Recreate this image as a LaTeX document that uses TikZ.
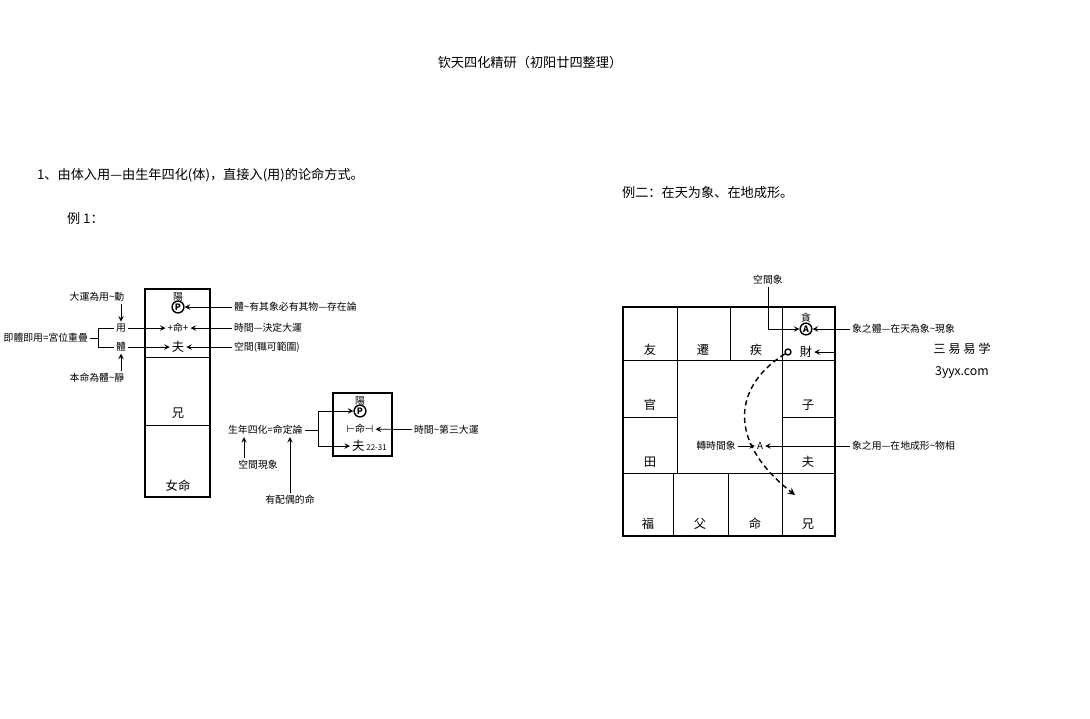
\documentclass[tikz,border=0pt]{standalone}
\usepackage{fontspec}
\setmainfont{Noto Sans CJK SC}
\newfontfamily\symfont{DejaVu Sans}
\usetikzlibrary{positioning}
\newcommand{\tl}{\textasciitilde}
\begin{document}
\begin{tikzpicture}[x=0.02cm, y=-0.02cm, >=stealth,
    big/.style = {font=\fontsize{7.5}{8}\selectfont, inner sep=1pt},
    lbl/.style = {font=\fontsize{5.6}{6}\selectfont, inner sep=1pt},
    pal/.style = {font=\fontsize{7}{8}\selectfont, inner sep=1pt},
    frame/.style = {draw, thick},
    dot/.style = {draw, circle, thick, inner sep=0.6pt, font=\fontsize{5}{5}\selectfont\bfseries}]
\useasboundingbox (0,0) rectangle (1090,718);
% headings
\node[big] (title) at (530,62) {钦天四化精研（初阳廿四整理）};
\node[big, anchor=west] (head) at (35,175) {1、由体入用—由生年四化(体)，直接入(用)的论命方式。};
\node[big, anchor=west] (ex1) at (65,218) {例 1：};
\node[big, anchor=west] (ex2) at (620,193) {例二：在天为象、在地成形。};
% example 1, first box
\draw[frame] (145,289) rectangle (210,497);
\draw (145,357) -- (210,357) (145,425) -- (210,425);
\node[lbl] (yang) at (178,297) {陽};
\node[dot] (lu) at (178,307) {P};
\node[lbl] (ming) at (178,328) {+命+};
\node[pal] (fu) at (178,347) {夫};
\node[pal] (xiong) at (178,413) {兄};
\node[pal] (nvming) at (178,486) {女命};
\node[lbl] (yun) at (97,297) {大運為用\tl 動};
\node[lbl] (yong) at (121,328) {用};
\node[lbl] (ti) at (121,347) {體};
\node[lbl] (benming) at (97,378) {本命為體\tl 靜};
\node[lbl, anchor=east] (gong) at (90,338) {即體即用=宮位重疊};
\draw[->] (yun.south -| yong) -- (yong);
\draw[->] (benming.north -| ti) -- (ti);
\draw (gong.east) -- (98,338) (98,328) -- (98,347);
\draw (98,328) -- (yong.west) (98,347) -- (ti.west);
\draw[->] (yong) -- (ming);
\draw[->] (ti) -- (fu);
\node[lbl, anchor=west] (cun) at (232,307) {體\tl 有其象必有其物—存在論};
\node[lbl, anchor=west] (shi) at (232,328) {時間—決定大運};
\node[lbl, anchor=west] (kong) at (232,347) {空間(職可範圍)};
\draw[->] (cun) -- (lu);
\draw[->] (shi) -- (ming);
\draw[->] (kong) -- (fu);
% example 1, second box
\draw[frame] (333,393) rectangle (392,456);
\node[lbl] (yang2) at (360,401) {陽};
\node[dot] (lu2) at (360,411) {P};
\node[lbl] (ming2) at (360,429) {{\symfont ⊢}命{\symfont ⊣}};
\node[pal, anchor=west] (fu2) at (350,446) {夫\,{\fontsize{4.5}{5}\selectfont 22-31}};
\node[lbl, anchor=west] (dinglun) at (226,430) {生年四化=命定論};
\node[lbl, anchor=west] (shi2) at (412,430) {時間\tl 第三大運};
\node[lbl] (xianxiang) at (258,465) {空間現象};
\node[lbl] (peiou) at (290,500) {有配偶的命};
\coordinate (sheng) at (244,437);
\coordinate (ding) at (290,437);
\draw (dinglun.east) -- (318,430) (318,411) -- (318,446);
\draw[->] (318,411) -- (lu2);
\draw[->] (318,446) -- (fu2);
\draw[->] (shi2) -- (ming2);
\draw[->] (xianxiang.north -| sheng) -- (sheng);
\draw[->] (peiou.north -| ding) -- (ding);
% example 2, palace grid
\draw[frame] (623,307) rectangle (835,536);
\draw (623,360) -- (835,360) (623,473) -- (835,473);
\draw (623,417) -- (677,417) (782,417) -- (835,417);
\draw (677,307) -- (677,360) (730,307) -- (730,360) (782,307) -- (782,536);
\draw (677,360) -- (677,473) (673,473) -- (673,536) (728,473) -- (728,536);
\foreach \t/\x/\y in {友/650/350, 遷/703/350, 疾/756/350, 官/650/405, 子/808/405,
    田/650/462, 夫/808/462, 福/648/524, 父/700/524, 命/755/524, 兄/808/524}
  \node[pal] at (\x,\y) {\t};
\node[lbl] (tan) at (806,318) {貪};
\node[dot] (quan) at (806,329) {A};
\node[pal] (cai) at (806,352) {財};
\node[draw, circle, thick, inner sep=1.2pt] (xiao) at (788,352) {};
\node[lbl] (kongxiang) at (768,280) {空間象};
\node[lbl, anchor=west] (xiangti) at (850,329) {象之體—在天為象\tl 現象};
\node[lbl, anchor=west] (xiangyong) at (850,446) {象之用—在地成形\tl 物相};
\node[lbl] (zhuan) at (716,446) {轉時間象};
\node[lbl] (aa) at (760,446) {A};
\coordinate (caiin) at (835,352);
\draw[->] (kongxiang) |- (quan);
\draw[->] (xiangti) -- (quan);
\draw[->] (caiin) -- (cai);
\draw[->] (zhuan) -- (aa);
\draw[->] (xiangyong) -- (aa);
\draw[->, densely dashed, thick] (xiao) .. controls (735,385) and (725,440) .. (795,495);
% watermark
\node[pal, fill=white] (wm1) at (962,349) {三 易 易 学};
\node[pal, fill=white] (wm2) at (962,372) {3yyx.com};
\end{tikzpicture}
\end{document}
